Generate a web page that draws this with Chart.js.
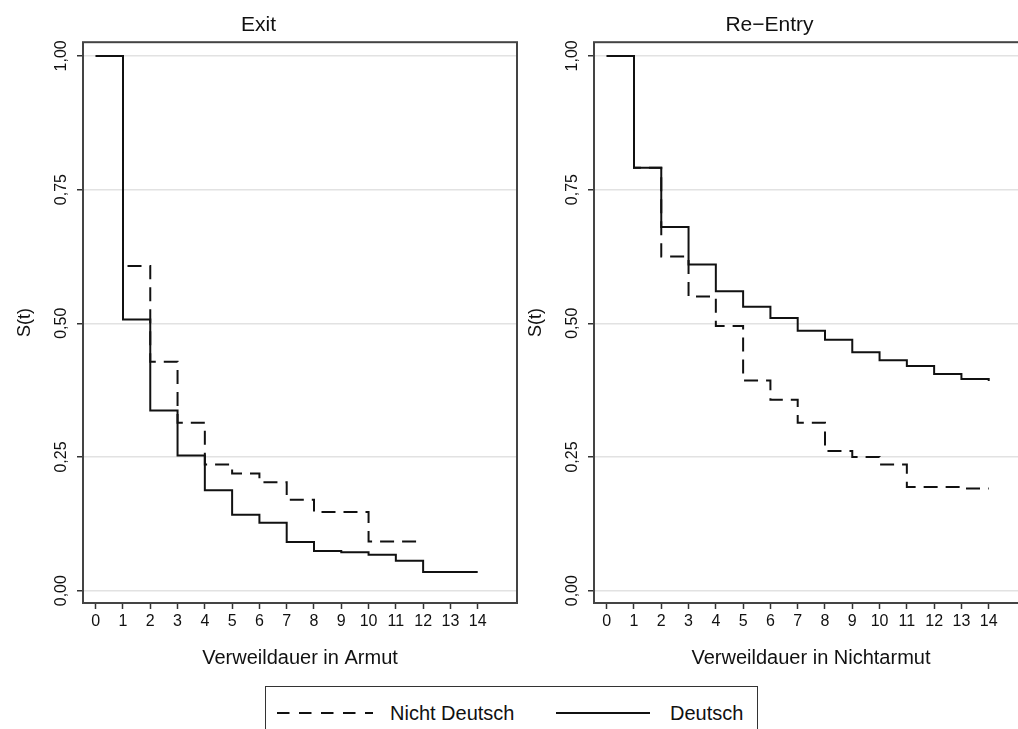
<!DOCTYPE html>
<html>
<head>
<meta charset="utf-8">
<script src="https://cdn.jsdelivr.net/npm/chart.js@4/dist/chart.umd.min.js"></script>
<style>
  html, body { margin: 0; padding: 0; background: #fff; overflow: hidden; width: 1018px; height: 729px; }
  canvas { position: absolute; top: 0; }
  #c1 { left: 0; }
  #c2 { left: 511px; }
  #legend { position: absolute; left: 265px; top: 686px; width: 491px; height: 70px;
            border: 1.5px solid #333; background: #fff; font-family: "Liberation Sans", Arial, Helvetica, sans-serif;
            font-size: 20px; color: #111; }
  #legend span { position: absolute; top: 14px; line-height: 24px; white-space: nowrap; }
  #legend svg { position: absolute; top: 20px; }
</style>
</head>
<body>
<canvas id="c1" width="520" height="680"></canvas>
<canvas id="c2" width="520" height="680"></canvas>
<div id="legend">
  <svg style="left:11px" width="100" height="12"><line x1="0" y1="6" x2="96" y2="6" stroke="#111" stroke-width="2" stroke-dasharray="12.5 9.5"/></svg>
  <span style="left:124px">Nicht Deutsch</span>
  <svg style="left:290px" width="95" height="12"><line x1="0" y1="6" x2="94" y2="6" stroke="#111" stroke-width="2"/></svg>
  <span style="left:404px">Deutsch</span>
</div>
<script>
// ---- data ----
const times = [0, 1, 2, 3, 4, 5, 6, 7, 8, 9, 10, 11, 12, 13, 14];
const xTicks = [0, 1, 2, 3, 4, 5, 6, 7, 8, 9, 10, 11, 12, 13, 14];
const yTicks = [0, 0.25, 0.5, 0.75, 1];
const seriesNames = ['Nicht Deutsch', 'Deutsch'];
const panelTitles = ['Exit', 'Re\u2212Entry'];
const xTitles = ['Verweildauer in Armut', 'Verweildauer in Nichtarmut'];
const yTitle = 'S(t)';

const exitNichtDeutsch = [1.000, 0.607, 0.428, 0.314, 0.236, 0.219, 0.203, 0.170, 0.147, 0.147, 0.092, 0.092, 0.092];
const exitDeutsch      = [1.000, 0.507, 0.337, 0.253, 0.188, 0.142, 0.127, 0.091, 0.074, 0.072, 0.067, 0.056, 0.035, 0.035, 0.035];
const reentryNichtDeutsch = [1.000, 0.791, 0.625, 0.550, 0.495, 0.393, 0.357, 0.314, 0.261, 0.250, 0.236, 0.194, 0.194, 0.191, 0.191];
const reentryDeutsch      = [1.000, 0.791, 0.680, 0.610, 0.560, 0.531, 0.510, 0.486, 0.469, 0.446, 0.431, 0.420, 0.405, 0.396, 0.392];

const FONT = '"Liberation Sans", Arial, Helvetica, sans-serif';

const framePlugin = {
  id: 'frame',
  afterDraw(chart) {
    const a = chart.chartArea, ctx = chart.ctx;
    ctx.save();
    ctx.strokeStyle = '#444';
    ctx.lineWidth = 2;
    ctx.strokeRect(a.left, a.top, a.right - a.left, a.bottom - a.top);
    ctx.restore();
  }
};

function toPoints(vals) { return vals.map((v, i) => ({ x: times[i], y: v })); }

function makeChart(id, title, xTitle, nd, d) {
  return new Chart(document.getElementById(id), {
    type: 'line',
    data: {
      datasets: [
        { label: seriesNames[0], data: toPoints(nd), stepped: true, borderColor: '#111', borderWidth: 2,
          borderDash: [14, 8], pointRadius: 0, fill: false },
        { label: seriesNames[1], data: toPoints(d), stepped: true, borderColor: '#111', borderWidth: 2,
          pointRadius: 0, fill: false }
      ]
    },
    options: {
      responsive: false, animation: false, devicePixelRatio: 1,
      layout: { padding: { left: 0, right: 3, top: 0, bottom: 0 } },
      plugins: {
        legend: { display: false },
        tooltip: { enabled: false },
        title: { display: true, text: title, color: '#111',
                 font: { family: FONT, size: 21, weight: 'normal' }, padding: { top: 13, bottom: 4 } }
      },
      scales: {
        x: {
          type: 'linear', min: -0.465, max: 15.44,
          afterBuildTicks: s => { s.ticks = xTicks.map(v => ({ value: v })); },
          afterFit: s => { s.height = 77; },
          ticks: { font: { family: FONT, size: 16 }, color: '#111', padding: 3, maxRotation: 0, autoSkip: false },
          grid: { display: true, drawOnChartArea: false, drawTicks: true, tickLength: 6, tickColor: '#333', tickWidth: 1.5 },
          border: { display: false },
          title: { display: true, text: xTitle, color: '#111', font: { family: FONT, size: 20 }, padding: { top: 0, bottom: 10 } }
        },
        y: {
          min: -0.023, max: 1.0256,
          afterBuildTicks: s => { s.ticks = yTicks.map(v => ({ value: v })); },
          afterFit: s => { s.width = 83; },
          ticks: { font: { family: FONT, size: 16 }, color: '#111', padding: 0, minRotation: 90, maxRotation: 90,
                   crossAlign: 'center', callback: v => v.toFixed(2).replace('.', ',') },
          grid: { color: '#e2e2e2', lineWidth: 1.5, drawTicks: true, tickLength: 6, tickColor: '#333', tickWidth: 1.5 },
          border: { display: false },
          title: { display: true, text: yTitle, color: '#111', font: { family: FONT, size: 18 }, padding: { top: 14, bottom: 0 } }
        }
      }
    },
    plugins: [framePlugin]
  });
}

makeChart('c1', panelTitles[0], xTitles[0], exitNichtDeutsch, exitDeutsch);
makeChart('c2', panelTitles[1], xTitles[1], reentryNichtDeutsch, reentryDeutsch);
</script>
</body>
</html>
